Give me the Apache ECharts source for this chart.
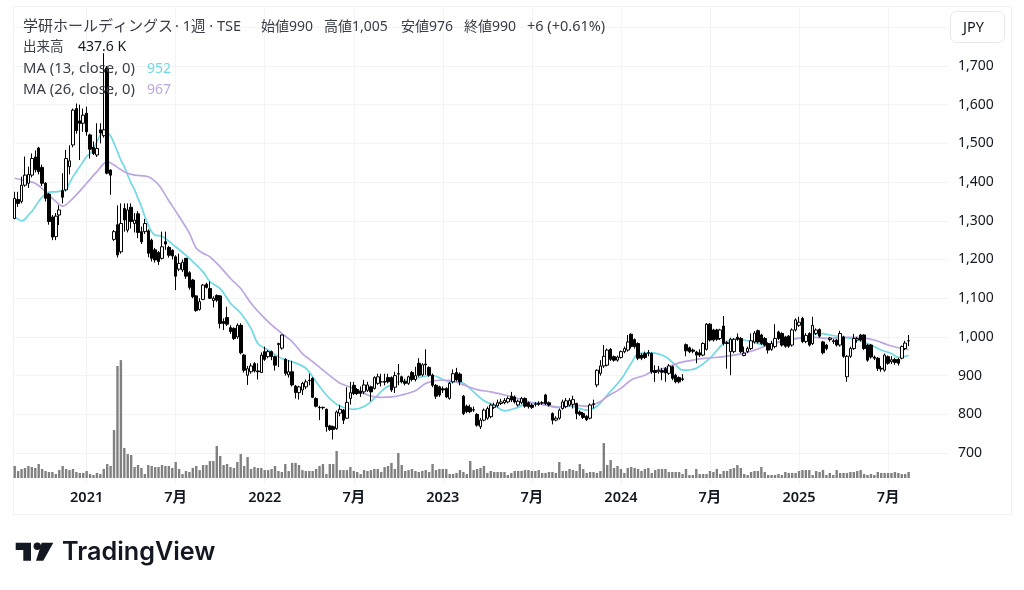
<!DOCTYPE html>
<html>
<head>
<meta charset="utf-8">
<style>
html,body{margin:0;padding:0;background:#fff;}
#main{width:1024px;height:590px;}
</style>
<script src="https://cdn.jsdelivr.net/npm/echarts@6/dist/echarts.min.js"></script>
</head>
<body>
<div id="main"></div>
<script>
// weekly candles, each row is open, close, low, high
var candles2020 = [
[1306,1358,1304,1375],[1355,1345,1336,1375],[1350,1392,1345,1414],[1392,1418,1388,1466],[1397,1420,1385,1440],
[1418,1461,1412,1474],[1465,1432,1425,1482],[1488,1427,1420,1491],[1438,1397,1390,1445],[1397,1358,1350,1400],
[1369,1298,1290,1372],[1310,1258,1250,1315],[1259,1312,1250,1320],[1315,1328,1289,1340],[1378,1361,1345,1423],
[1380,1461,1376,1483],[1440,1455,1420,1495],[1496,1586,1490,1590],[1590,1533,1525,1603],[1558,1552,1457,1600],
[1552,1573,1530,1590]];
var candles2021 = [
[1578,1530,1520,1595],[1522,1485,1461,1525],[1490,1474,1470,1505],[1470,1487,1465,1552],[1535,1527,1500,1552],
[1520,1535,1515,1733],[1695,1423,1420,1700],[1431,1418,1367,1433],[1252,1272,1248,1276],[1290,1212,1205,1340],
[1220,1293,1215,1345],[1332,1302,1272,1345],[1276,1328,1270,1345],[1335,1298,1280,1345],[1293,1302,1270,1320],
[1318,1270,1255,1325],[1272,1246,1240,1285],[1272,1293,1266,1305],[1274,1216,1206,1278],[1250,1203,1195,1254],
[1225,1199,1192,1230],[1218,1195,1186,1222],[1203,1233,1200,1272],[1246,1240,1225,1272],[1231,1211,1205,1235],
[1224,1209,1200,1226],[1207,1157,1121,1211],[1175,1190,1170,1215],[1173,1193,1168,1200],[1203,1157,1150,1204],
[1166,1128,1122,1170],[1147,1104,1100,1150],[1106,1068,1065,1108],[1071,1091,1068,1100],[1097,1134,1095,1137],
[1136,1128,1125,1140],[1125,1100,1098,1143],[1094,1100,1076,1105],[1107,1095,1090,1110],[1106,1035,1022,1108],
[1040,1035,1018,1048],[1050,1033,1028,1078],[1024,1014,1008,1030],[1022,996,992,1025],[1000,1030,995,1035],
[1030,959,955,1035],[953,914,908,956],[901,918,876,925],[910,925,905,932],[931,912,908,935],
[912,910,890,932],[908,953,908,960]];
var candles2022 = [
[962,942,938,975],[949,962,945,966],[962,949,940,965],[949,927,913,952],[980,983,922,985],
[971,1005,967,1006],[942,906,900,945],[902,910,895,940],[910,876,872,938],[873,856,841,876],
[856,871,838,874],[863,880,850,884],[871,884,865,890],[888,887,875,905],[893,844,842,896],
[841,821,818,844],[818,817,785,822],[818,817,812,820],[813,768,755,815],[770,761,757,773],
[768,761,735,771],[763,806,760,810],[803,813,795,824],[811,785,775,814],[790,831,788,870],
[841,856,825,884],[875,854,850,884],[864,854,850,868],[860,854,845,872],[858,876,852,889],
[862,876,858,884],[871,858,834,874],[867,895,864,898],[880,897,876,905],[884,884,872,905],
[885,883,875,905],[895,884,880,905],[895,863,858,898],[870,900,855,910],[905,904,875,930],
[897,884,880,900],[885,880,875,892],[880,897,876,900],[908,890,885,912],[890,900,885,923],
[932,901,897,945],[902,928,898,932],[930,928,902,968],[921,901,897,924],[901,875,870,905],
[875,847,840,878],[871,850,845,874]];
var candles2023 = [
[866,863,855,872],[867,845,842,870],[841,880,838,884],[884,905,880,916],[908,889,885,920],
[904,884,875,908],[847,802,798,850],[821,807,803,825],[817,807,803,825],[812,811,806,820],
[800,772,768,803],[768,785,762,790],[785,811,782,815],[790,815,786,820],[794,824,790,828],
[818,824,814,830],[822,830,818,838],[828,832,824,840],[830,836,826,842],[832,841,828,846],
[847,837,832,858],[845,832,828,849],[824,834,820,838],[830,841,826,845],[841,821,817,844],
[830,820,815,833],[824,818,814,828],[827,826,820,832],[829,826,822,834],[830,829,825,834],
[850,828,824,853],[830,824,820,833],[802,785,774,805],[785,790,782,795],[790,811,786,815],
[815,832,812,838],[820,835,816,842],[824,836,820,842],[826,838,815,848],[828,802,787,830],
[806,800,796,810],[802,792,788,806],[795,786,783,798],[790,824,787,828],[827,826,815,838],
[876,914,870,916],[906,925,900,940],[925,950,920,979],[927,966,924,970],[968,942,938,971],
[949,940,936,952],[940,948,936,952]];
var candles2024 = [
[947,962,944,965],[962,970,958,975],[966,987,962,1005],[1007,975,970,1009],[993,975,970,996],
[983,945,940,986],[953,945,940,958],[957,947,943,962],[959,958,950,966],[957,910,905,960],
[913,908,884,927],[910,914,905,925],[913,909,888,920],[918,907,884,922],[906,925,902,930],
[923,893,888,926],[901,884,880,905],[895,884,880,898],[890,892,886,904],[980,964,950,983],
[972,962,958,975],[966,963,958,970],[961,953,932,964],[959,953,948,968],[953,983,950,986],
[968,1033,965,1036],[1033,992,988,1036],[1018,992,988,1021],[1018,994,990,1021],[996,1018,992,1021],
[1028,983,978,1054],[985,983,918,990],[962,994,901,998],[962,994,958,997],[999,994,990,1009],
[996,962,958,1000],[952,958,950,975],[962,970,958,975],[970,990,966,1009],[987,1010,983,1015],
[1016,987,983,1019],[1005,983,979,1008],[996,979,975,1000],[983,966,957,986],[968,983,964,990],
[975,996,971,1033],[1013,996,992,1016],[1009,979,975,1012],[1000,976,972,1003],[1002,976,972,1005],
[979,1018,975,1022],[1018,1044,1014,1048]];
var candles2025 = [
[1030,1038,1026,1052],[1048,988,984,1052],[988,1004,984,1010],[1009,979,975,1012],[983,1030,979,1052],
[1009,1018,1005,1022],[1019,1002,998,1022],[987,959,955,990],[979,970,965,982],[993,997,988,1000],
[990,988,982,995],[992,979,975,995],[979,1009,975,1016],[1000,950,946,1003],[897,950,884,953],
[950,970,946,975],[970,996,966,1008],[992,996,985,1000],[1005,992,988,1008],[1005,970,966,1007],
[979,940,936,982],[979,948,944,982],[948,945,940,952],[945,919,912,948],[919,917,910,925],
[914,953,910,957],[949,932,928,952],[936,941,930,950],[942,934,928,946],[942,932,926,946],
[945,975,942,978],[970,984,966,990],[990,990,976,1005]];

// weekly volume in thousands
var volume2020 = [880,510,660,730,880,800,730,1020,660,510,440,440,290,580,880,660,580,660,440,370,370];
var volume2021 = [510,290,220,370,290,660,1020,880,3500,8180,8610,2190,1750,1680,800,950,730,290,950,880,800,800,950,880,880,730,1170,660,290,510,440,730,880,580,950,950,1240,1240,2340,1610,950,1020,800,730,1170,1750,880,1530,660,800,730,730];
var volume2022 = [580,580,660,880,510,440,1020,510,1100,1100,950,580,510,510,510,660,880,1020,290,1020,1020,1970,580,580,580,800,510,440,290,580,510,580,660,660,440,800,880,1100,660,1830,950,510,580,660,510,440,510,580,440,1020,580,660];
var volume2023 = [660,660,290,290,370,580,440,290,1240,580,660,730,880,370,510,440,440,440,440,220,370,510,510,510,580,580,510,510,580,370,370,440,440,370,1170,510,510,660,580,510,1020,660,370,440,440,370,510,2550,950,1310,730,880];
var volume2024 = [660,370,730,800,730,660,510,660,730,370,580,660,660,660,440,440,440,440,290,660,220,220,660,290,290,290,510,440,660,290,510,510,660,730,950,730,290,220,440,510,510,800,440,220,220,220,290,220,440,370,370,370];
var volume2025 = [510,580,580,580,220,510,440,580,220,370,220,580,370,370,370,440,440,510,580,290,220,290,220,440,370,370,370,370,440,370,290,290,437.6];

var ma13Bars = [0,1,2,3,4,5,6,7,8,9,10,12,14,15,16,17,18,19,20,21,22,23,24,25,26,27,28,29,30,31,32,33,34,35,36,37,38,39,40,41,43,47,51,55,57,60,63,66,69,71,74,78,81,85,88,91,94,97,99,102,105,108,111,114,117,122,125,127,130,134,137,140,143,147,150,154,158,162,167,170,173,177,180,182,186,190,193,195,199,203,207,211,215,219,223,227,231,235,238,242,246,249,253,256,258,261];
var ma13Values = [1311,1304,1300,1304,1315,1324,1337,1350,1361,1369,1374,1375,1378,1381,1397,1414,1427,1440,1453,1466,1474,1487,1504,1522,1530,1528,1519,1500,1479,1457,1440,1418,1397,1380,1358,1337,1311,1289,1272,1263,1260,1233,1203,1168,1143,1125,1087,1061,1022,983,966,944,936,919,884,850,826,815,813,820,841,867,880,888,893,901,890,884,884,858,835,824,809,818,830,827,818,821,811,821,850,890,932,957,959,949,927,914,919,945,983,994,988,979,988,994,1000,1009,1005,999,992,983,966,957,947,952];
var ma26Bars = [0,3,6,9,12,14,17,21,24,27,29,32,35,39,42,45,48,51,53,55,57,60,63,66,69,72,75,78,81,84,87,90,93,95,98,101,104,107,110,113,117,120,124,127,131,135,139,143,147,151,155,159,163,167,171,173,177,180,184,186,190,194,198,202,207,212,216,220,224,228,232,237,242,246,251,255,258,261];
var ma26Values = [1410,1404,1397,1375,1350,1338,1358,1397,1427,1453,1444,1427,1418,1414,1393,1352,1311,1268,1229,1216,1207,1181,1151,1125,1087,1057,1031,1009,988,957,936,914,893,880,870,858,847,844,845,850,861,880,888,888,876,864,858,850,841,830,824,818,824,821,833,846,867,889,901,910,920,933,940,945,949,956,966,979,988,996,1000,996,999,999,992,979,972,967];

// x axis and price axis labels
var tickBars = [21,47,73,99,125,151,177,203,229,255];
var tickLabels = ['2021','7月','2022','7月','2023','7月','2024','7月','2025','7月'];
var priceTicks = [700,800,900,1000,1100,1200,1300,1400,1500,1600,1700,1800];
var priceLabels = [700,800,900,1000,1100,1200,1300,1400,1500,1600,1700];

var candles = candles2020.concat(candles2021,candles2022,candles2023,candles2024,candles2025);
var volumes = volume2020.concat(volume2021,volume2022,volume2023,volume2024,volume2025);

// blank weeks after the last bar leave the empty room on the right
var blankWeeks = 11;
var categories = [];
for(var i=0;i<candles.length+blankWeeks;i++){
    categories.push(i);
}
function isTick(index){
    return tickBars.indexOf(index)>=0;
}
function pairs(bars,values){
    return bars.map(function(b,k){ return [b,values[k]]; });
}

var FONT = '"Noto Sans","Noto Sans CJK JP",sans-serif';
var TEXT = '#131722';
var GREY = '#3a3d47';
var CYAN = '#6fd9e4';
var PURPLE = '#bda6e0';

function label(x,y,text,color,size,weight){
    return {
        type:'text', x:x, y:y, z:50,
        style:{
            text:text, fill:color||TEXT, font:(weight||'normal')+' '+(size||14)+'px '+FONT,
            textVerticalAlign:'middle'
        }
    };
}

var chart = echarts.init(document.getElementById('main'),null,{renderer:'canvas'});
var option = {
    animation:false,
    backgroundColor:'#fff',
    grid:[
        {left:13,top:6,width:935,height:478},
        {left:13,top:300,width:935,height:178}
    ],
    xAxis:[{
        type:'category', gridIndex:0, data:categories, boundaryGap:true,
        axisLine:{show:false}, axisTick:{show:false},
        axisLabel:{
            interval:function(index){ return isTick(index); },
            formatter:function(v,index){ return tickLabels[tickBars.indexOf(index)]; },
            color:TEXT, fontSize:14.5, fontWeight:600, fontFamily:FONT, margin:7
        },
        splitLine:{
            show:true, alignWithLabel:true,
            interval:function(index){ return isTick(index); },
            lineStyle:{color:'#f3f4f7',width:1}
        }
    },{
        type:'category', gridIndex:1, data:categories, boundaryGap:true, show:false
    }],
    yAxis:[{
        type:'value', gridIndex:0, position:'right', min:620, max:1855, scale:true,
        axisLine:{show:false},
        axisTick:{show:false, customValues:priceTicks},
        axisLabel:{
            customValues:priceLabels, margin:10, color:TEXT, fontSize:14, fontFamily:FONT,
            formatter:function(v){ return echarts.format.addCommas(v); }
        },
        splitLine:{show:true,lineStyle:{color:'#f3f4f7',width:1}}
    },{
        type:'value', gridIndex:1, min:0, max:13000, show:false, splitLine:{show:false}
    }],
    series:[{
        name:'出来高', type:'bar', xAxisIndex:1, yAxisIndex:1, data:volumes,
        barWidth:2.4, itemStyle:{color:'#808080'}, z:2
    },{
        name:'MA13', type:'line', data:pairs(ma13Bars,ma13Values), smooth:0.3, showSymbol:false,
        lineStyle:{color:CYAN,width:1.7}, z:3
    },{
        name:'MA26', type:'line', data:pairs(ma26Bars,ma26Values), smooth:0.3, showSymbol:false,
        lineStyle:{color:PURPLE,width:1.7}, z:3
    },{
        name:'学研ホールディングス', type:'candlestick', data:candles, barWidth:3,
        itemStyle:{color:'#ffffff',color0:'#000000',borderColor:'#000000',borderColor0:'#000000',borderWidth:1},
        z:4
    }],
    graphic:[
        // chart frame
        {type:'rect',z:1,shape:{x:13.5,y:6.5,width:998,height:508},style:{fill:'none',stroke:'#f0f2f6',lineWidth:1}},
        // currency button
        {type:'rect',z:40,shape:{x:950.5,y:11.5,width:54,height:31,r:6},style:{fill:'#fff',stroke:'#e6e8ee',lineWidth:1}},
        label(963,28,'JPY',TEXT,14.5),
        // legend rows
        label(23,27,'学研ホールディングス',GREY,15),
        label(175,27,'· 1週 · TSE',GREY,14.5),
        label(261,27,'始値990',GREY,14),
        label(324,27,'高値1,005',GREY,14),
        label(401,27,'安値976',GREY,14),
        label(464,27,'終値990',GREY,14),
        label(527,27,'+6 (+0.61%)',GREY,14.5),
        label(23,47,'出来高',GREY,13.5),
        label(78,47,'437.6 K',TEXT,14),
        label(23,69,'MA (13, close, 0)',GREY,14.8),
        label(147,69,'952',CYAN,14),
        label(23,90,'MA (26, close, 0)',GREY,14.8),
        label(147,90,'967',PURPLE,14),
        // TradingView mark
        {type:'polygon',z:40,shape:{points:[[15.7,542.7],[31,542.7],[31,560.7],[23.3,560.7],[23.3,550],[15.7,550]]},style:{fill:'#131722'}},
        {type:'circle',z:40,shape:{cx:37.3,cy:546.3,r:3.7},style:{fill:'#131722'}},
        {type:'polygon',z:40,shape:{points:[[41.7,542.7],[53.3,542.7],[43.3,560.7],[36,560.7]]},style:{fill:'#131722'}},
        {
            type:'text',x:62,y:552,z:40,
            style:{text:'TradingView',fill:'#131722',font:'600 25.2px Inter,sans-serif',textVerticalAlign:'middle'}
        }
    ]
};
chart.setOption(option);
</script>
</body>
</html>
